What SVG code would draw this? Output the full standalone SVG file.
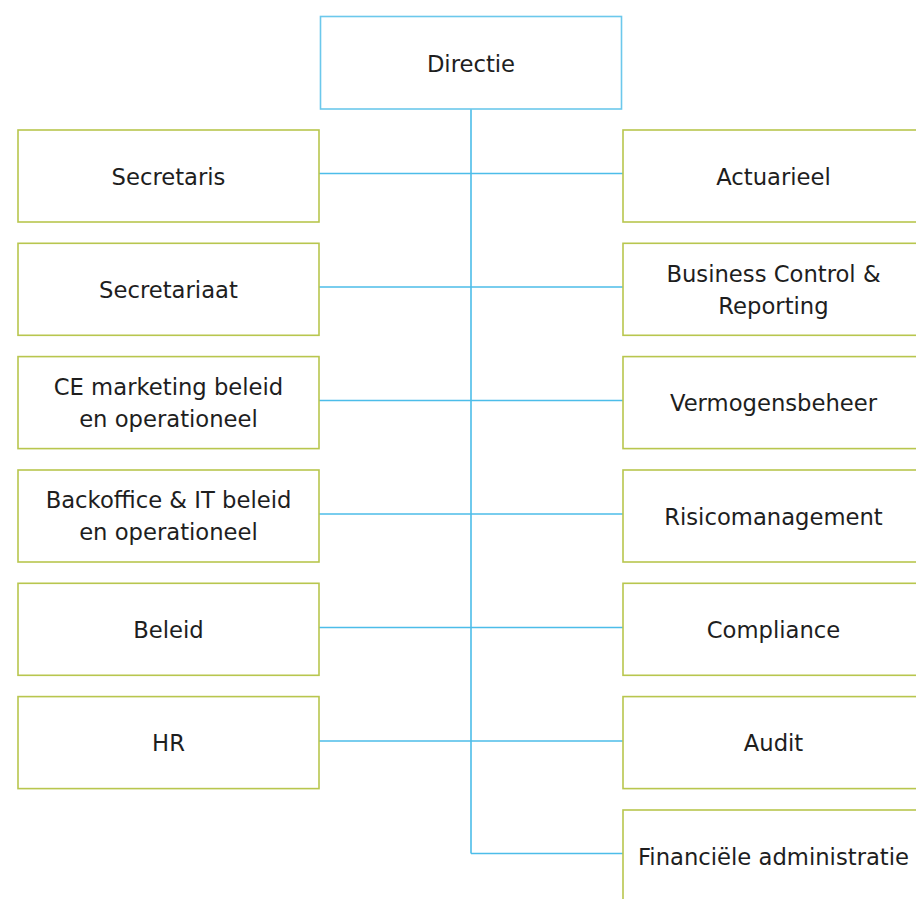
<svg xmlns="http://www.w3.org/2000/svg" width="916" height="899" viewBox="0 0 916 899">
<style>
.bg{fill:#ffffff}
.top{fill:#ffffff;stroke:#6cc8ec;stroke-width:1.6}
.box{fill:#ffffff;stroke:#b8c64e;stroke-width:1.6}
.lbl{font-family:"DejaVu Sans",Verdana,sans-serif;font-size:22.7px;fill:#1e1e1e;text-anchor:middle}
.con{fill:none;stroke:#4cbde9;stroke-width:1.6}
</style>
<rect class="bg" x="0" y="0" width="916" height="899"/>
<g id="connectors">
<path class="con" d="M471,109 V853.5"/>
<path class="con" d="M319,173.5 H623"/>
<path class="con" d="M319,287 H623"/>
<path class="con" d="M319,400.5 H623"/>
<path class="con" d="M319,514 H623"/>
<path class="con" d="M319,627.5 H623"/>
<path class="con" d="M319,741 H623"/>
<path class="con" d="M471,853.5 H623"/>
</g>
<g id="directie"><rect class="top" x="320.5" y="16.5" width="301" height="92.5"/><text class="lbl" x="471" y="71.5">Directie</text></g>
<g id="secretaris"><rect class="box" x="18" y="130" width="301" height="92"/><text class="lbl" x="168.5" y="184.5">Secretaris</text></g>
<g id="secretariaat"><rect class="box" x="18" y="243.3" width="301" height="92"/><text class="lbl" x="168.5" y="297.8">Secretariaat</text></g>
<g id="ce-marketing"><rect class="box" x="18" y="356.6" width="301" height="92"/><text class="lbl" x="168.5" y="394.6">CE marketing beleid</text><text class="lbl" x="168.5" y="426.6">en operationeel</text></g>
<g id="backoffice"><rect class="box" x="18" y="470" width="301" height="92"/><text class="lbl" x="168.5" y="508">Backoffice &amp; IT beleid</text><text class="lbl" x="168.5" y="540">en operationeel</text></g>
<g id="beleid"><rect class="box" x="18" y="583.3" width="301" height="92"/><text class="lbl" x="168.5" y="637.8">Beleid</text></g>
<g id="hr"><rect class="box" x="18" y="696.6" width="301" height="92"/><text class="lbl" x="168.5" y="751.1">HR</text></g>
<g id="actuarieel"><rect class="box" x="623" y="130" width="301" height="92"/><text class="lbl" x="773.5" y="184.5">Actuarieel</text></g>
<g id="business-control"><rect class="box" x="623" y="243.3" width="301" height="92"/><text class="lbl" x="773.5" y="281.5">Business Control &amp;</text><text class="lbl" x="773.5" y="313.5">Reporting</text></g>
<g id="vermogensbeheer"><rect class="box" x="623" y="356.6" width="301" height="92"/><text class="lbl" x="773.5" y="411.1">Vermogensbeheer</text></g>
<g id="risicomanagement"><rect class="box" x="623" y="470" width="301" height="92"/><text class="lbl" x="773.5" y="524.5">Risicomanagement</text></g>
<g id="compliance"><rect class="box" x="623" y="583.3" width="301" height="92"/><text class="lbl" x="773.5" y="637.8">Compliance</text></g>
<g id="audit"><rect class="box" x="623" y="696.6" width="301" height="92"/><text class="lbl" x="773.5" y="751.1">Audit</text></g>
<g id="financiele-administratie"><rect class="box" x="623" y="810" width="301" height="92"/><text class="lbl" x="773.5" y="864.5">Financiële administratie</text></g>
</svg>
